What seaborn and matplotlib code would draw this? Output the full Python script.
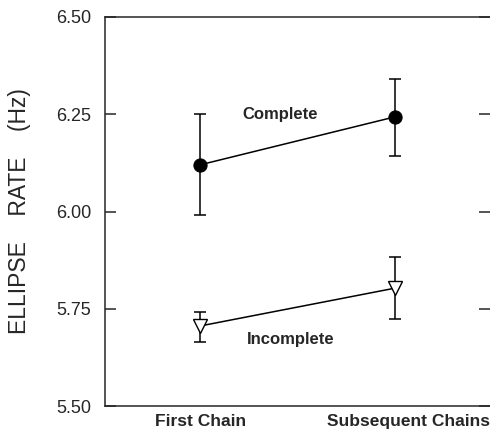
import pandas as pd
import matplotlib.pyplot as plt
import seaborn as sns

# Values
conditions = ['First Chain', 'Subsequent Chains']
complete_mean = [6.12, 6.243]
complete_lo = [5.99, 6.143]
complete_hi = [6.25, 6.34]
incomplete_mean = [5.706, 5.803]
incomplete_lo = [5.665, 5.724]
incomplete_hi = [5.742, 5.883]
y_ticks = [5.50, 5.75, 6.00, 6.25, 6.50]

sns.set_style("ticks")
plt.rcParams['font.family'] = ['Liberation Sans', 'DejaVu Sans']

df = pd.DataFrame({
    'pos': [0, 1, 0, 1],
    'rate': complete_mean + incomplete_mean,
    'group': ['Complete', 'Complete', 'Incomplete', 'Incomplete'],
})

fig = plt.figure(figsize=(4.9, 4.33), dpi=100)
ax = fig.add_axes([0.214, 0.062, 0.786, 0.899])

sns.lineplot(data=df, x='pos', y='rate', hue='group', style='group',
             palette=['black', 'black'], markers={'Complete': 'o', 'Incomplete': 'v'},
             dashes=False, linewidth=1.1, legend=False, ax=ax, zorder=2)

# error bars
for mean, lo, hi in [(complete_mean, complete_lo, complete_hi),
                     (incomplete_mean, incomplete_lo, incomplete_hi)]:
    err = [[m - l for m, l in zip(mean, lo)], [h - m for m, h in zip(mean, hi)]]
    ax.errorbar([0, 1], mean, yerr=err, fmt='none', ecolor='black',
                elinewidth=1.1, capsize=4, capthick=1.1, zorder=1)

# marker styling
lines = ax.get_lines()
for ln in lines[:2]:
    if ln.get_marker() == 'o':
        ln.set_markersize(9.5)
        ln.set_markerfacecolor('black')
        ln.set_markeredgecolor('black')
    elif ln.get_marker() == 'v':
        ln.set_markersize(10)
        ln.set_markerfacecolor('white')
        ln.set_markeredgecolor('black')
        ln.set_markeredgewidth(1.0)

ax.text(0.41, 6.25, 'Complete', fontsize=12, fontweight='bold', ha='center', va='center')
ax.text(0.465, 5.672, 'Incomplete', fontsize=12, fontweight='bold', ha='center', va='center')

ax.set_xlim(-0.49, 1.49)
ax.set_ylim(5.5, 6.5)
ax.set_yticks(y_ticks)
ax.set_yticklabels([f'{t:.2f}' for t in y_ticks], fontsize=13)
ax.set_xticks([0, 1.07])
ax.set_xticklabels(conditions, fontsize=12.5, fontweight='bold')
ax.tick_params(axis='x', length=0, pad=6)
ax.tick_params(axis='y', direction='in', length=8, right=True, width=1.1, pad=10)
ax.set_xlabel('')
ax.set_ylabel('ELLIPSE    RATE    (Hz)', fontsize=16.5, labelpad=18)
ax.spines['right'].set_visible(False)
for s in ['left', 'top', 'bottom']:
    ax.spines[s].set_linewidth(1.1)

plt.savefig('out.png', dpi=100)
plt.close()
